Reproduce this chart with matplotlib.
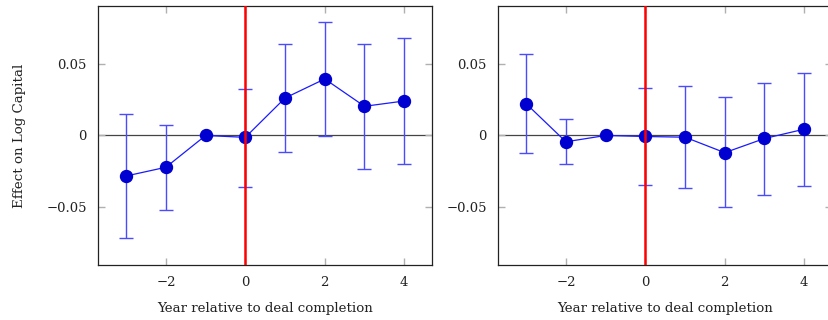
import matplotlib
matplotlib.use("Agg")
import matplotlib.pyplot as plt

plt.rcParams['font.family'] = ['DejaVu Serif']
plt.rcParams['mathtext.fontset'] = 'dejavuserif'

years = [-3, -2, -1, 0, 1, 2, 3, 4]

# left panel
coef_l = [-0.0283, -0.0222, 0.0, -0.0013, 0.0262, 0.0395, 0.0204, 0.0241]
hi_l = [0.0148, 0.0071, 0.0, 0.0325, 0.0640, 0.0796, 0.0640, 0.0682]
lo_l = [-0.0715, -0.0519, 0.0, -0.0358, -0.0113, -0.0003, -0.0232, -0.0202]

# right panel
coef_r = [0.0222, -0.0044, 0.0, -0.0007, -0.0012, -0.0120, -0.0021, 0.0044]
hi_r = [0.0572, 0.0116, 0.0, 0.0331, 0.0343, 0.0266, 0.0370, 0.0438]
lo_r = [-0.0125, -0.0201, 0.0, -0.0345, -0.0366, -0.0502, -0.0414, -0.0350]

ytick_vals = [-0.05, 0, 0.05]
ytick_labels = ['\u22120.05', '0', '0.05']
xtick_vals = [-2, 0, 2, 4]
xtick_labels = ['\u22122', '0', '2', '4']

fig = plt.figure(figsize=(8.29, 3.2), dpi=100)
ax1 = fig.add_axes([0.1182, 0.1719, 0.4029, 0.8094])
ax2 = fig.add_axes([0.6007, 0.1719, 0.4029, 0.8094])


def draw(ax, coef, hi, lo):
    yerr = [[c - l for c, l in zip(coef, lo)], [h - c for c, h in zip(coef, hi)]]
    ax.axhline(0, color='#444444', lw=0.9, zorder=1)
    ax.errorbar(years, coef, yerr=yerr, fmt='none', ecolor='#4a4aff',
                elinewidth=1.0, capsize=5, capthick=1.0, zorder=2)
    ax.plot(years, coef, color='#1a1aff', lw=0.9, zorder=3)
    ax.plot(years, coef, 'o', color='#0000d0', ms=8.6, zorder=4)
    ax.axvline(0, color='#ff0000', lw=1.8, zorder=5)
    ax.set_xlim(-3.71, 4.7)
    ax.set_ylim(-0.0905, 0.0905)
    ax.set_yticks(ytick_vals)
    ax.set_yticklabels(ytick_labels)
    ax.set_xticks(xtick_vals)
    ax.set_xticklabels(xtick_labels)
    ax.tick_params(direction='in', length=5, width=1, color='#b0b0b0',
                   top=True, right=True, labelsize=9.5, labelcolor='#222222', pad=8)
    for s in ax.spines.values():
        s.set_color('#222222')
        s.set_linewidth(0.9)
    ax.set_xlabel('Year relative to deal completion', fontsize=9.6,
                  labelpad=9, color='#222222')


draw(ax1, coef_l, hi_l, lo_l)
draw(ax2, coef_r, hi_r, lo_r)
ax1.set_ylabel('Effect on Log Capital', fontsize=9.6, labelpad=15, color='#222222')

fig.savefig('out.png', dpi=100)
